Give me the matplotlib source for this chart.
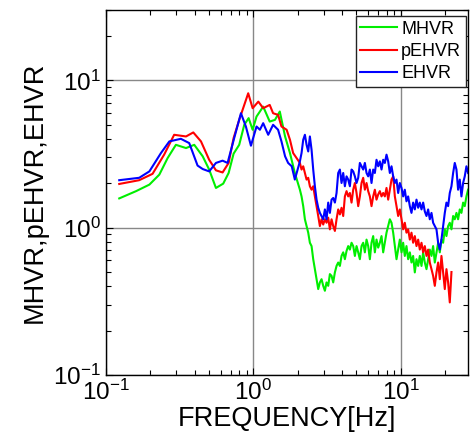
import matplotlib
matplotlib.use("Agg")
import matplotlib.pyplot as plt
from matplotlib.ticker import LogLocator

plt.rcParams['font.family'] = ['Liberation Sans', 'DejaVu Sans']
plt.rcParams['mathtext.fontset'] = 'custom'
plt.rcParams['mathtext.rm'] = 'Liberation Sans'

# low band (below ~2 Hz), each curve sampled on its own frequencies
freq_mhvr_low = [0.123, 0.160, 0.197, 0.230, 0.262, 0.298, 0.349, 0.397, 0.453, 0.501,
                 0.557, 0.624, 0.679, 0.734, 0.801, 0.867, 0.928, 0.988, 1.05, 1.165,
                 1.29, 1.40, 1.51, 1.64, 1.77, 1.91]
mhvr_low = [1.58, 1.77, 1.96, 2.29, 2.97, 3.65, 3.47, 3.65, 3.05, 2.48,
            1.86, 1.99, 2.35, 3.18, 3.65, 4.99, 5.54, 4.62, 5.68, 6.63,
            5.25, 5.39, 6.14, 4.16, 3.21, 2.35]

freq_pehvr_low = [0.123, 0.168, 0.207, 0.248, 0.290, 0.349, 0.391, 0.441, 0.501, 0.557,
                  0.618, 0.679, 0.734, 0.801, 0.867, 0.922, 0.988, 1.08, 1.165, 1.29,
                  1.36, 1.47, 1.55, 1.68, 1.77, 1.86]
pehvr_low = [1.98, 2.10, 2.32, 3.13, 4.27, 4.16, 4.43, 3.85, 2.89, 2.45,
             2.37, 2.75, 4.06, 5.39, 6.81, 8.17, 6.47, 7.17, 6.47, 6.81,
             5.98, 5.83, 4.86, 4.62, 3.95, 3.21]

freq_ehvr_low = [0.123, 0.168, 0.197, 0.236, 0.269, 0.322, 0.367, 0.418, 0.453, 0.501,
                 0.557, 0.618, 0.668, 0.741, 0.823, 0.889, 0.962, 1.05, 1.107, 1.165,
                 1.26, 1.36, 1.47, 1.55, 1.64, 1.72, 1.82, 1.91]
ehvr_low = [2.10, 2.18, 2.41, 3.21, 3.85, 4.01, 3.75, 2.64, 2.50, 2.41,
            2.75, 2.85, 2.75, 4.06, 5.98, 4.86, 3.60, 4.86, 4.62, 5.12,
            4.27, 4.99, 4.62, 3.85, 3.05, 2.75, 2.61, 2.12]

# high band (2 - 28.6 Hz), shared frequency samples
freq_high = [2.067, 2.121, 2.177, 2.235, 2.294, 2.354, 2.416, 2.480, 2.545, 2.612,
             2.681, 2.752, 2.824, 2.899, 2.975, 3.054, 3.134, 3.217, 3.302, 3.389,
             3.478, 3.570, 3.664, 3.760, 3.860, 3.961, 4.066, 4.173, 4.283, 4.396,
             4.512, 4.631, 4.753, 4.878, 5.007, 5.139, 5.274, 5.413, 5.556, 5.702,
             5.852, 6.006, 6.165, 6.327, 6.494, 6.665, 6.840, 7.021, 7.206, 7.396,
             7.591, 7.791, 7.996, 8.207, 8.423, 8.645, 8.873, 9.107, 9.347, 9.593,
             9.846, 10.11, 10.37, 10.64, 10.92, 11.21, 11.51, 11.81, 12.12, 12.44,
             12.77, 13.11, 13.45, 13.81, 14.17, 14.54, 14.93, 15.32, 15.72, 16.14,
             16.56, 17.00, 17.45, 17.91, 18.38, 18.86, 19.36, 19.87, 20.39, 20.93,
             21.48, 22.05, 22.63, 23.22, 23.84, 24.46, 25.11, 25.77, 26.45, 27.14,
             27.86, 28.59]

mhvr_high = [1.81, 1.63, 1.40, 1.14, 1.025, 0.925, 0.79, 0.75, 0.611, 0.523,
             0.447, 0.383, 0.425, 0.447, 0.403, 0.373, 0.425, 0.403, 0.484, 0.471,
             0.425, 0.497, 0.55, 0.58, 0.55, 0.643, 0.68, 0.611, 0.695, 0.75,
             0.71, 0.79, 0.75, 0.643, 0.75, 0.68, 0.611, 0.75, 0.79, 0.68,
             0.83, 0.75, 0.611, 0.79, 0.877, 0.68, 0.83, 0.732, 0.79, 0.877,
             0.68, 0.79, 0.925, 1.025, 1.14, 1.08, 0.925, 0.75, 0.611, 0.71,
             0.83, 0.68, 0.79, 0.643, 0.75, 0.611, 0.68, 0.58, 0.643, 0.497,
             0.611, 0.55, 0.643, 0.55, 0.68, 0.58, 0.523, 0.611, 0.71, 0.643,
             0.75, 0.58, 0.68, 0.79, 0.68, 0.83, 0.79, 0.974, 0.877, 1.025,
             1.08, 0.974, 1.20, 1.14, 1.26, 1.14, 1.33, 1.26, 1.48, 1.40,
             1.63, 1.81]

pehvr_high = [2.75, 2.48, 2.61, 2.35, 2.12, 2.18, 1.91, 1.81, 1.91, 1.63,
              1.40, 1.20, 1.025, 1.14, 1.05, 1.14, 1.08, 1.17, 0.974, 1.14,
              1.025, 0.95, 1.14, 1.33, 1.23, 1.365, 1.20, 1.63, 1.77, 1.63,
              1.72, 1.48, 1.81, 2.01, 1.72, 1.40, 1.63, 2.01, 2.18, 1.81,
              2.01, 1.77, 1.63, 1.40, 1.63, 1.81, 1.55, 1.68, 1.77, 1.63,
              1.72, 1.63, 1.86, 1.55, 1.81, 2.12, 2.23, 1.63, 1.40, 1.20,
              1.33, 1.14, 0.974, 1.08, 0.925, 0.974, 0.83, 0.925, 0.79, 0.877,
              0.75, 0.83, 0.71, 0.79, 0.68, 0.75, 0.643, 0.71, 0.58, 0.523,
              0.471, 0.403, 0.497, 0.58, 0.447, 0.643, 0.497, 0.383, 0.523, 0.425,
              0.311, 0.50]

ehvr_high = [2.82, 3.21, 3.95, 4.27, 3.65, 3.29, 4.16, 3.38, 2.48, 1.91,
             1.55, 1.365, 1.26, 1.20, 1.14, 1.33, 1.14, 1.48, 1.26, 1.55,
             1.59, 1.48, 1.72, 2.35, 2.48, 2.01, 2.35, 1.91, 2.23, 2.12,
             1.91, 2.48, 2.41, 2.23, 2.01, 2.18, 2.75, 2.61, 2.48, 2.75,
             2.35, 2.23, 2.48, 2.01, 2.48, 2.35, 2.89, 2.61, 2.82, 2.48,
             2.89, 2.75, 3.13, 2.82, 2.35, 2.61, 2.23, 2.01, 2.12, 1.72,
             2.01, 1.86, 1.63, 1.81, 1.51, 1.63, 1.40, 1.26, 1.48, 1.33,
             1.55, 1.365, 1.48, 1.33, 1.48, 1.29, 1.20, 1.33, 1.14, 1.26,
             1.08, 1.025, 0.974, 0.79, 0.71, 0.83, 1.025, 1.26, 1.48, 1.40,
             1.72, 1.91, 2.35, 2.75, 2.48, 1.81, 2.12, 1.63, 2.01, 2.23,
             2.61, 2.35]

freq_mhvr = freq_mhvr_low + freq_high
mhvr = mhvr_low + mhvr_high
freq_pehvr = freq_pehvr_low + freq_high[:len(pehvr_high)]
pehvr = pehvr_low + pehvr_high
freq_ehvr = freq_ehvr_low + freq_high
ehvr = ehvr_low + ehvr_high

fig = plt.figure(figsize=(4.70, 4.38), dpi=100)
ax = fig.add_axes([0.2255, 0.1438, 0.770, 0.8333])

ax.plot(freq_mhvr, mhvr, color='#00ee00', lw=1.5, label='MHVR')
ax.plot(freq_pehvr, pehvr, color='#ff0000', lw=1.5, label='pEHVR')
ax.plot(freq_ehvr, ehvr, color='#0000ff', lw=1.5, label='EHVR')

ax.set_xscale('log')
ax.set_yscale('log')
ax.set_xlim(0.1, 28.5)
ax.set_ylim(0.1, 30)

ax.xaxis.set_major_locator(LogLocator(base=10, numticks=10))
ax.yaxis.set_major_locator(LogLocator(base=10, numticks=10))
ax.grid(True, which='major', color='#888888', lw=1.0)
ax.tick_params(which='both', direction='in', top=True, right=True, labelsize=17.5)
ax.tick_params(which='major', length=5, width=0.8)
ax.tick_params(which='minor', length=3.5, width=0.8)
for s in ax.spines.values():
    s.set_linewidth(1.0)

ax.set_xlabel('FREQUENCY[Hz]', fontsize=19.5, labelpad=1)
ax.set_ylabel('MHVR,pEHVR,EHVR', fontsize=19.5, labelpad=4)

leg = ax.legend(loc='upper right', bbox_to_anchor=(0.9936, 0.9836), fontsize=13,
                fancybox=False, framealpha=1, edgecolor='#222222', borderaxespad=0,
                handlelength=2.0, handletextpad=0.25, labelspacing=0.3, borderpad=0.25)
leg.get_frame().set_linewidth(1.0)

fig.savefig('out.png', dpi=100)
